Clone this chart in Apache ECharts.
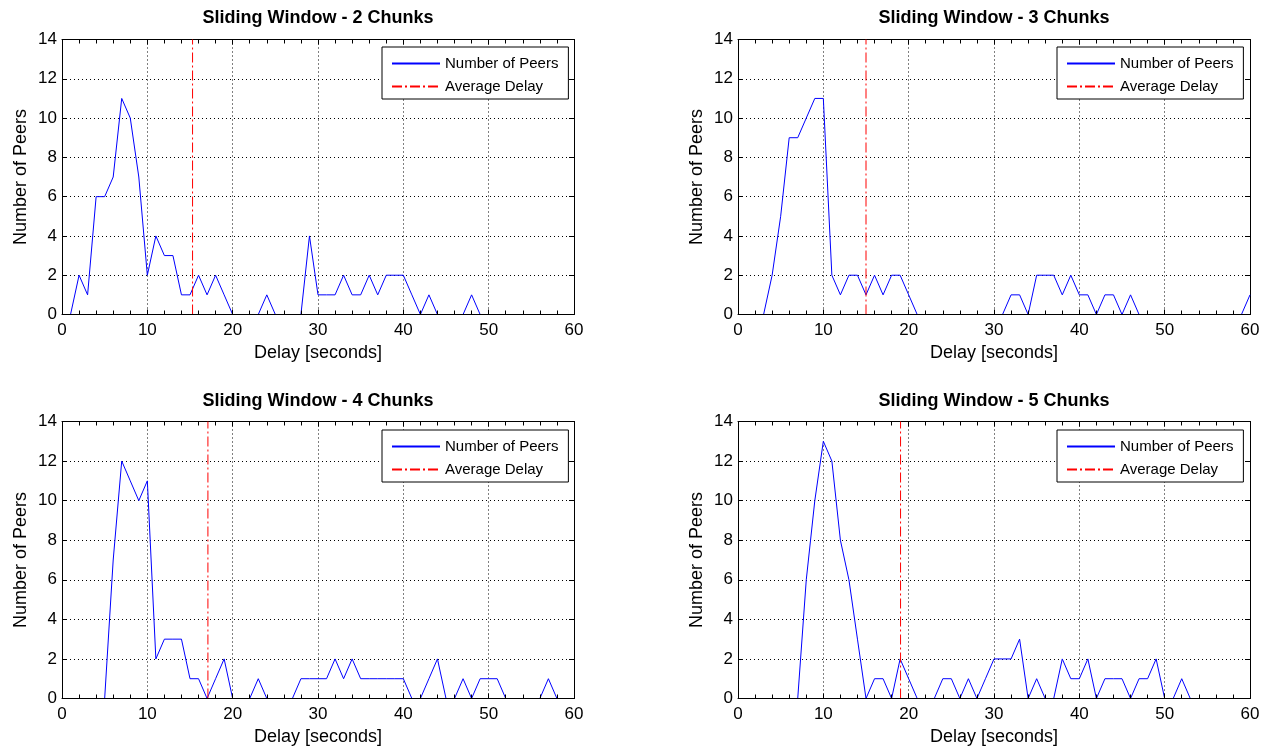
<!DOCTYPE html>
<html>
<head>
<meta charset="utf-8">
<title>Sliding Window - Delay Distribution</title>
<script src="https://cdn.jsdelivr.net/npm/echarts@6/dist/echarts.min.js"></script>
<style>
  html, body { margin: 0; padding: 0; background: #fff; }
  #chart { width: 1268px; height: 749px; }
</style>
</head>
<body>
<div id="chart"></div>
<script>
// Delay in seconds (0..60, one bin per second)
const delays = Array.from({ length: 61 }, (_, i) => i);

// Number of peers per delay bin, one list per window size
const peers2 = [0, 0, 2, 1, 6, 6, 7, 11, 10, 7, 2, 4, 3, 3, 1, 1, 2, 1, 2, 1,
                0, 0, 0, 0, 1, 0, 0, 0, 0, 4, 1, 1, 1, 2, 1, 1, 2, 1, 2, 2,
                2, 1, 0, 1, 0, 0, 0, 0, 1, 0, 0, 0, 0, 0, 0, 0, 0, 0, 0, 0, 0];
const peers3 = [0, 0, 0, 0, 2, 5, 9, 9, 10, 11, 11, 2, 1, 2, 2, 1, 2, 1, 2, 2,
                1, 0, 0, 0, 0, 0, 0, 0, 0, 0, 0, 0, 1, 1, 0, 2, 2, 2, 1, 2,
                1, 1, 0, 1, 1, 0, 1, 0, 0, 0, 0, 0, 0, 0, 0, 0, 0, 0, 0, 0, 1];
const peers4 = [0, 0, 0, 0, 0, 0, 7, 12, 11, 10, 11, 2, 3, 3, 3, 1, 1, 0, 1, 2,
                0, 0, 0, 1, 0, 0, 0, 0, 1, 1, 1, 1, 2, 1, 2, 1, 1, 1, 1, 1,
                1, 0, 0, 1, 2, 0, 0, 1, 0, 1, 1, 1, 0, 0, 0, 0, 0, 1, 0, 0, 0];
const peers5 = [0, 0, 0, 0, 0, 0, 0, 0, 6, 10, 13, 12, 8, 6, 3, 0, 1, 1, 0, 2,
                1, 0, 0, 0, 1, 1, 0, 1, 0, 1, 2, 2, 2, 3, 0, 1, 0, 0, 2, 1,
                1, 2, 0, 1, 1, 1, 0, 1, 1, 2, 0, 0, 1, 0, 0, 0, 0, 0, 0, 0, 0];

// Average delay (seconds) for each window size
const avgDelays = [15.3, 15.0, 17.1, 19.05];

const panelTitles = [
  'Sliding Window - 2 Chunks',
  'Sliding Window - 3 Chunks',
  'Sliding Window - 4 Chunks',
  'Sliding Window - 5 Chunks'
];
const peerSeries = [peers2, peers3, peers4, peers5];

const xTicks = { min: 0, max: 60, interval: 10 };
const yTicks = { min: 0, max: 14, interval: 2 };

const SERIES_PEERS = 'Number of Peers';
const SERIES_AVG = 'Average Delay';
const FONT = '"Liberation Sans", Arial, Helvetica, sans-serif';

// Panel boxes in pixels (half-pixel tops so the zero level lands on the axis pixel row)
const panels = [
  { left: 62,  top: 39.5,  width: 512, height: 275, legendLeft: 382,  legendTop: 47,  titleTop: 9 },
  { left: 738, top: 39.5,  width: 512, height: 275, legendLeft: 1057, legendTop: 47,  titleTop: 9 },
  { left: 62,  top: 421.5, width: 512, height: 277, legendLeft: 382,  legendTop: 430, titleTop: 392 },
  { left: 738, top: 421.5, width: 512, height: 277, legendLeft: 1057, legendTop: 430, titleTop: 392 }
];

const black = '#000';
const gridDots = { color: black, width: 1, type: [1, 3] };

const option = {
  backgroundColor: '#fff',
  animation: false,
  title: [], grid: [], xAxis: [], yAxis: [], legend: [], series: []
};

panels.forEach((p, i) => {
  option.title.push({
    text: panelTitles[i],
    left: p.left + p.width / 2,
    top: p.titleTop,
    padding: 0,
    textAlign: 'center',
    textStyle: { fontFamily: FONT, fontSize: 18, fontWeight: 'bold', color: black }
  });

  option.grid.push({ left: p.left, top: p.top, width: p.width, height: p.height, containLabel: false });

  // bottom x axis (labelled, drawn above the curves so zero runs sit under the axis line)
  option.xAxis.push({
    type: 'value', gridIndex: i, position: 'bottom', z: 5,
    min: xTicks.min, max: xTicks.max, interval: xTicks.interval,
    name: 'Delay [seconds]', nameLocation: 'middle', nameGap: 30,
    nameTextStyle: { fontFamily: FONT, fontSize: 18, color: black },
    axisLine: { show: true, lineStyle: { color: black, width: 1 } },
    axisTick: { show: true, inside: true, length: 5, lineStyle: { color: black } },
    minorTick: { show: true, splitNumber: 5, length: 4, lineStyle: { color: black } },
    axisLabel: { fontFamily: FONT, fontSize: 17, color: black, margin: 7 },
    splitLine: { show: false }
  });
  // top x axis: box edge, ticks and the vertical dotted grid
  option.xAxis.push({
    type: 'value', gridIndex: i, position: 'top', z: 0,
    min: xTicks.min, max: xTicks.max, interval: xTicks.interval,
    axisLine: { show: true, onZero: false, lineStyle: { color: black, width: 1 } },
    axisTick: { show: true, inside: true, length: 5, lineStyle: { color: black } },
    minorTick: { show: true, splitNumber: 5, length: 4, lineStyle: { color: black } },
    axisLabel: { show: false },
    splitLine: { show: true, lineStyle: gridDots }
  });

  // left y axis (labelled) and right y axis (box edge, ticks, horizontal grid)
  option.yAxis.push({
    type: 'value', gridIndex: i, position: 'left', z: 5,
    min: yTicks.min, max: yTicks.max, interval: yTicks.interval,
    name: 'Number of Peers', nameLocation: 'middle', nameGap: 32, nameRotate: 90,
    nameTextStyle: { fontFamily: FONT, fontSize: 18, color: black },
    axisLine: { show: true, lineStyle: { color: black, width: 1 } },
    axisTick: { show: true, inside: true, length: 5, lineStyle: { color: black } },
    axisLabel: { fontFamily: FONT, fontSize: 17, color: black, margin: 5 },
    splitLine: { show: false }
  });
  option.yAxis.push({
    type: 'value', gridIndex: i, position: 'right', z: 0,
    min: yTicks.min, max: yTicks.max, interval: yTicks.interval,
    axisLine: { show: true, onZero: false, lineStyle: { color: black, width: 1 } },
    axisTick: { show: true, inside: true, length: 5, lineStyle: { color: black } },
    axisLabel: { show: false },
    splitLine: { show: true, lineStyle: gridDots }
  });

  option.legend.push({
    data: [SERIES_PEERS, SERIES_AVG],
    orient: 'vertical',
    left: p.legendLeft, top: p.legendTop,
    itemWidth: 48, itemHeight: 14, itemGap: 8,
    padding: [9, 10, 5, 9],
    backgroundColor: '#fff',
    borderColor: black, borderWidth: 1, borderRadius: 0,
    selectedMode: false,
    itemStyle: { opacity: 0 },
    textStyle: { fontFamily: FONT, fontSize: 15, color: black },
    z: 10
  });

  option.series.push({
    name: SERIES_PEERS, type: 'line',
    xAxisIndex: 2 * i, yAxisIndex: 2 * i,
    data: delays.map((d, k) => [d, peerSeries[i][k]]),
    symbol: 'none', showSymbol: false,
    lineStyle: { color: '#0000ff', width: 1 },
    itemStyle: { color: '#0000ff' },
    z: 2
  });
  option.series.push({
    name: SERIES_AVG, type: 'line',
    xAxisIndex: 2 * i, yAxisIndex: 2 * i,
    data: [[avgDelays[i], yTicks.min], [avgDelays[i], yTicks.max]],
    symbol: 'none', showSymbol: false,
    lineStyle: { color: '#ff0000', width: 1, type: [10, 3, 2, 3] },
    itemStyle: { color: '#ff0000' },
    z: 3
  });
});

const chart = echarts.init(document.getElementById('chart'), null, { renderer: 'canvas' });
chart.setOption(option);
</script>
</body>
</html>
